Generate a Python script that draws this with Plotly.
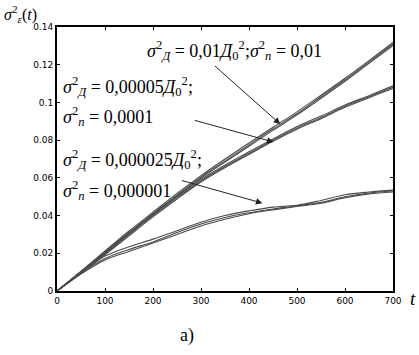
import plotly.graph_objects as go

t = [0, 50, 100, 150, 200, 250, 300, 350, 400, 450, 500, 550, 600, 650, 700]

# group 1: sigma_D^2 = 0.01 D0^2; sigma_n^2 = 0.01
g1_a = [0, 0.0100, 0.0205, 0.0310, 0.0410, 0.0510, 0.0605, 0.0690, 0.0775, 0.0860, 0.0940, 0.1030, 0.1120, 0.1215, 0.1310]
g1_b = [0, 0.0105, 0.0212, 0.0318, 0.0418, 0.0518, 0.0612, 0.0700, 0.0785, 0.0868, 0.0950, 0.1038, 0.1128, 0.1222, 0.1318]
g1_c = [0, 0.0097, 0.0200, 0.0304, 0.0404, 0.0504, 0.0598, 0.0684, 0.0768, 0.0852, 0.0934, 0.1022, 0.1112, 0.1208, 0.1302]

# group 2: sigma_D^2 = 0.00005 D0^2; sigma_n^2 = 0.0001
g2_a = [0, 0.0098, 0.0198, 0.0300, 0.0400, 0.0495, 0.0585, 0.0660, 0.0730, 0.0800, 0.0865, 0.0920, 0.0980, 0.1030, 0.1080]
g2_b = [0, 0.0103, 0.0205, 0.0308, 0.0408, 0.0502, 0.0592, 0.0668, 0.0738, 0.0806, 0.0872, 0.0928, 0.0986, 0.1036, 0.1088]
g2_c = [0, 0.0094, 0.0192, 0.0293, 0.0393, 0.0488, 0.0578, 0.0654, 0.0724, 0.0794, 0.0858, 0.0914, 0.0974, 0.1025, 0.1074]

# group 3: sigma_D^2 = 0.000025 D0^2; sigma_n^2 = 0.000001
g3_a = [0, 0.0095, 0.0172, 0.0220, 0.0260, 0.0310, 0.0355, 0.0390, 0.0415, 0.0435, 0.0452, 0.0470, 0.0500, 0.0520, 0.0530]
g3_b = [0, 0.0100, 0.0185, 0.0235, 0.0275, 0.0320, 0.0365, 0.0400, 0.0425, 0.0445, 0.0455, 0.0480, 0.0510, 0.0525, 0.0535]
g3_c = [0, 0.0090, 0.0165, 0.0210, 0.0255, 0.0300, 0.0345, 0.0380, 0.0410, 0.0430, 0.0448, 0.0465, 0.0495, 0.0515, 0.0525]

x_ticks = [0, 100, 200, 300, 400, 500, 600, 700]
y_ticks = [0, 0.02, 0.04, 0.06, 0.08, 0.1, 0.12, 0.14]
y_tick_text = ["0", "0.02", "0.04", "0.06", "0.08", "0.1", "0.12", "0.14"]

fig = go.Figure()
for ys in [g1_a, g1_b, g1_c, g2_a, g2_b, g2_c, g3_a, g3_b, g3_c]:
    fig.add_trace(go.Scatter(x=t, y=ys, mode="lines", line=dict(color="#4a4a4a", width=1.1, shape="spline"),
                             showlegend=False, hoverinfo="skip"))

serif = "Liberation Serif"
tf = dict(family=serif, size=18, color="black")

def sig(sub):
    return "<i>σ</i><sup>2</sup><sub><i>" + sub + "</i></sub>"

D0 = "<i>Д</i><sub>0</sub><sup>2</sup>"

# text annotations
fig.add_annotation(xref="paper", yref="paper", x=0.262, y=0.91, xanchor="left", yanchor="middle",
                   text=sig("Д") + " = 0,01" + D0 + ";" + sig("п") + " = 0,01", showarrow=False, font=tf)
fig.add_annotation(xref="paper", yref="paper", x=0.012, y=0.775, xanchor="left", yanchor="middle",
                   text=sig("Д") + " = 0,00005" + D0 + ";", showarrow=False, font=tf)
fig.add_annotation(xref="paper", yref="paper", x=0.012, y=0.66, xanchor="left", yanchor="middle",
                   text=sig("п") + " = 0,0001", showarrow=False, font=tf)
fig.add_annotation(xref="paper", yref="paper", x=0.012, y=0.5, xanchor="left", yanchor="middle",
                   text=sig("Д") + " = 0,000025" + D0 + ";", showarrow=False, font=tf)
fig.add_annotation(xref="paper", yref="paper", x=0.012, y=0.38, xanchor="left", yanchor="middle",
                   text=sig("п") + " = 0,000001", showarrow=False, font=tf)

# arrows
arrows = [((465, 0.0885), (326, 0.1200)),
          ((451, 0.0790), (284, 0.0907)),
          ((428, 0.0466), (257, 0.0588))]
for (hx, hy), (tx, ty) in arrows:
    fig.add_annotation(x=hx, y=hy, ax=tx, ay=ty, xref="x", yref="y", axref="x", ayref="y",
                       text="", showarrow=True, arrowhead=2, arrowsize=1.3, arrowwidth=1, arrowcolor="#222")

# axis labels
fig.add_annotation(xref="paper", yref="paper", x=-0.165, y=1.1, xanchor="left", yanchor="top",
                   text="<i>σ</i><sup>2</sup><sub><i>ε</i></sub>(<i>t</i>)", showarrow=False,
                   font=dict(family=serif, size=16, color="black"))
fig.add_annotation(xref="paper", yref="paper", x=1.06, y=-0.027, xanchor="center", yanchor="middle",
                   text="<i>t</i>", showarrow=False, font=dict(family=serif, size=19, color="black"))
fig.add_annotation(xref="paper", yref="paper", x=0.387, y=-0.167, xanchor="center", yanchor="middle",
                   text="а)", showarrow=False, font=dict(family=serif, size=18, color="black"))

axis_common = dict(showgrid=False, zeroline=False, showline=True, linecolor="black", linewidth=2,
                   mirror="ticks", ticks="inside", ticklen=3, tickcolor="black",
                   tickfont=dict(family="DejaVu Sans", size=9, color="black"))
fig.update_xaxes(range=[0, 700], tickvals=x_ticks, **axis_common)
fig.update_yaxes(range=[0, 0.14], tickvals=y_ticks, ticktext=y_tick_text, **axis_common)

fig.update_layout(width=419, height=355, margin=dict(l=57, r=26, t=27, b=64),
                  plot_bgcolor="white", paper_bgcolor="white", showlegend=False)

fig.write_html("out.html", config={"displayModeBar": False},
               post_script="document.body.style.margin='0';document.body.style.overflow='hidden';")
